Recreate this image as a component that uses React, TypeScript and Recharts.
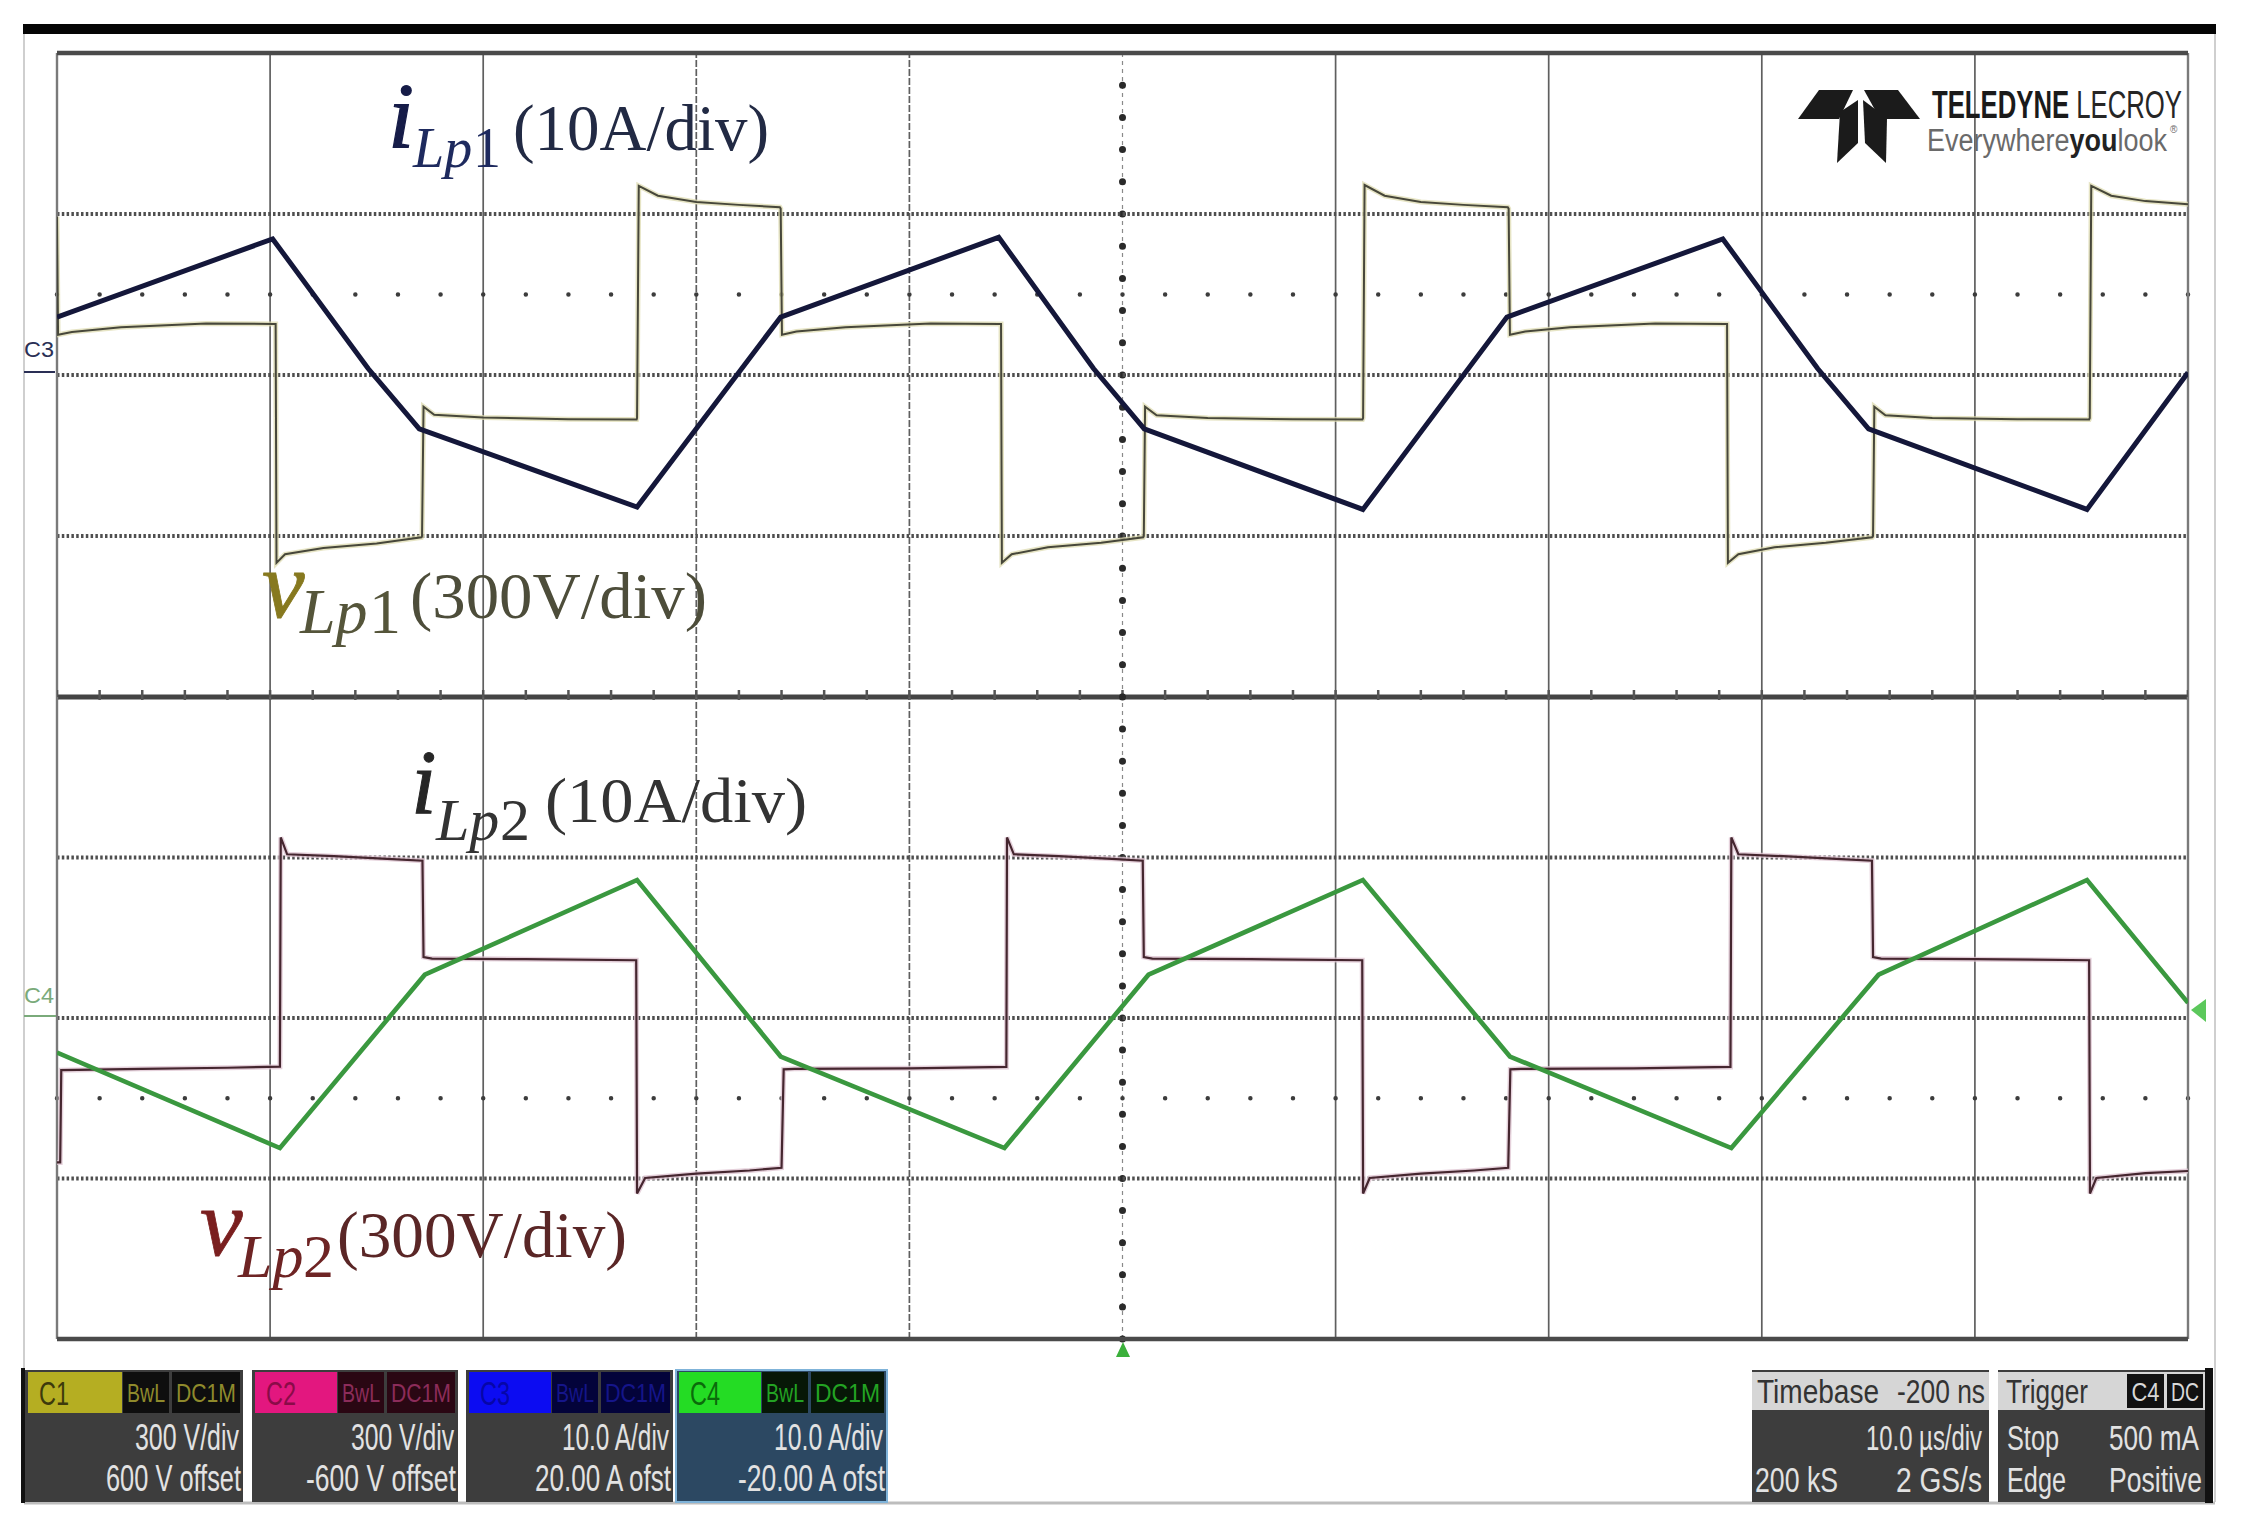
import React from 'react';
import { LineChart, Line, XAxis, YAxis, ReferenceLine } from 'recharts';

// Teledyne LeCroy capture, 10 us/div, trigger at screen centre (t = 0)
const majorT = [-40, -30, -20, -10, 10, 20, 30, 40];
const brokenT = [-20, -10];

// upper grid: vLp1 [V], 300 V/div
const vLp1: [number, number][] = [
  [-50, 590], [-49.95, 150], [-49.3, 160], [-47, 178], [-43, 192], [-39.8, 190],
  [-39.74, 190], [-39.7, -700], [-39.3, -668], [-37.5, -645], [-35, -628], [-32.9, -605],
  [-32.87, -600], [-32.8, -118], [-32.3, -148], [-30, -158], [-26, -165], [-22.8, -166],
  [-22.78, -160], [-22.7, 705], [-21.8, 668], [-20, 645], [-18, 634], [-16.08, 625],
  [-16.04, 620], [-15.98, 150], [-15.3, 162], [-13, 178], [-9, 192], [-5.74, 190],
  [-5.7, 190], [-5.66, -700], [-5.2, -668], [-3.5, -642], [-1, -625], [0.97, -605],
  [1.0, -600], [1.06, -118], [1.6, -150], [4, -160], [8, -165], [11.26, -166],
  [11.29, -160], [11.36, 708], [12.3, 668], [14, 645], [16, 634], [18.08, 625],
  [18.12, 620], [18.18, 150], [18.9, 162], [21, 178], [25, 192], [28.33, 190],
  [28.37, 190], [28.41, -700], [28.9, -668], [30.6, -642], [33, -625], [35.18, -605],
  [35.22, -600], [35.28, -118], [35.8, -150], [38, -160], [42, -165], [45.36, -166],
  [45.39, -160], [45.46, 705], [46.4, 668], [48, 648], [50, 636],
];

// upper grid: iLp1 [A], 10 A/div
const iLp1: [number, number][] = [
  [-50, 7.2], [-39.88, 16.9], [-35.4, 0.8], [-33.0, -6.7], [-22.78, -16.4], [-16.04, 7.2],
  [-5.81, 17.1], [-1.36, 0.8], [1.02, -6.7], [11.28, -16.7], [18.04, 7.2], [28.17, 16.9],
  [32.62, 0.8], [35.01, -6.7], [45.26, -16.7], [50, 0.3],
];

// lower grid: vLp2 [V], 300 V/div
const vLp2: [number, number][] = [
  [-50, -540], [-49.85, -540], [-49.8, -195], [-46, -190], [-42, -186], [-39.54, -182],
  [-39.5, 675], [-39.2, 612], [-37, 605], [-34.5, 595], [-32.85, 588],
  [-32.8, 228], [-32.4, 222], [-28, 220], [-22.82, 216],
  [-22.78, -656], [-22.4, -598], [-20, -582], [-17.5, -570], [-16.0, -560],
  [-15.9, -192], [-15.4, -190], [-10, -188], [-5.45, -183],
  [-5.42, 675], [-5.1, 612], [-3, 605], [-0.5, 595], [0.95, 588],
  [1.0, 228], [1.4, 222], [6, 220], [11.25, 216],
  [11.29, -656], [11.6, -598], [14, -582], [16.5, -570], [18.1, -560],
  [18.2, -192], [18.7, -190], [24, -188], [28.53, -183],
  [28.57, 675], [28.9, 612], [31, 605], [33.5, 595], [35.17, 588],
  [35.22, 228], [35.6, 222], [40, 220], [45.36, 216],
  [45.4, -656], [45.7, -598], [48, -580], [50, -572],
];

// lower grid: iLp2 [A], 10 A/div
const iLp2: [number, number][] = [
  [-50, -4.3], [-39.54, -16.2], [-32.74, 5.4], [-22.78, 17.2], [-16.04, -4.8],
  [-5.54, -16.2], [1.22, 5.4], [11.28, 17.2], [18.18, -4.8],
  [28.57, -16.2], [35.48, 5.4], [45.26, 17.2], [50, 1.9],
];

const channels = [
  { name: 'C1', scale: '300 V/div', offset: '600 V offset' },
  { name: 'C2', scale: '300 V/div', offset: '-600 V offset' },
  { name: 'C3', scale: '10.0 A/div', offset: '20.00 A ofst' },
  { name: 'C4', scale: '10.0 A/div', offset: '-20.00 A ofst' },
];

const boxLook = [
  { x: 25, w: 218, tagW: 94, tag: '#b5ae22', tagInk: '#3d3a0c', box: '#0e0e0e', boxInk: '#8f8a2c', body: '#3d3d3d', lens: [104, 135] },
  { x: 252, w: 206, tagW: 82, tag: '#e3177f', tagInk: '#8a0b48', box: '#2a0713', boxInk: '#8c2c5a', body: '#3d3d3d', lens: [103, 150] },
  { x: 466, w: 207, tagW: 82, tag: '#0c0cf2', tagInk: '#0606a8', box: '#03033a', boxInk: '#15158a', body: '#3d3d3d', lens: [107, 136] },
  { x: 676, w: 211, tagW: 82, tag: '#24dc24', tagInk: '#0b6b0b', box: '#071707', boxInk: '#23a323', body: '#2c4862', lens: [109, 147] },
];

const pts = (pairs: [number, number][], key: string) =>
  pairs.map(([t, y]) => ({ t, [key]: y }));

const SANS = '"Liberation Sans Narrow", "Liberation Sans", Arial, sans-serif';
const SERIF = '"Liberation Serif", "Times New Roman", serif';

function scopeGrid(axis: string, span: number, part: 'upper' | 'lower', minorY: number) {
  const div = span / 4;
  const out: React.ReactNode[] = [];
  majorT.forEach((t) =>
    out.push(
      <ReferenceLine key={'m' + t} x={t} yAxisId={axis} stroke="#5f5f5f" strokeWidth={1.7}
        strokeDasharray={brokenT.includes(t) ? '7 2' : undefined} />
    )
  );
  out.push(<ReferenceLine key="c0" x={0} yAxisId={axis} stroke="#8a8a8a" strokeWidth={1.2} strokeDasharray="4 4" />);
  out.push(
    <ReferenceLine key="c1" x={0} yAxisId={axis} stroke="#2a2a2a" strokeWidth={7}
      strokeLinecap="round" strokeDasharray={`0 ${minorY}`} />
  );
  [2 * div, 0, -2 * div].forEach((y) =>
    out.push(
      <ReferenceLine key={'h' + y} y={y} yAxisId={axis} stroke="#4f4f4f" strokeWidth={4.2} strokeDasharray="2.5 2.3" />
    )
  );
  out.push(
    <ReferenceLine key="sp" y={part === 'upper' ? div : -div} yAxisId={axis} stroke="#3c3c3c" strokeWidth={4.5}
      strokeLinecap="round" strokeDasharray="0 42.62" />
  );
  out.push(<ReferenceLine key="bl" x={-50} yAxisId={axis} stroke="#7a7a7a" strokeWidth={2.4} />);
  out.push(<ReferenceLine key="br" x={50} yAxisId={axis} stroke="#7a7a7a" strokeWidth={2.4} />);
  if (part === 'upper') {
    out.push(<ReferenceLine key="top" y={span} yAxisId={axis} stroke="#4a4a4a" strokeWidth={4.5} />);
    out.push(<ReferenceLine key="mid" y={-span} yAxisId={axis} stroke="#444" strokeWidth={5} />);
    out.push(
      <ReferenceLine key="tk" y={-span} yAxisId={axis} stroke="#555" strokeWidth={14}
        strokeDasharray="2.5 40.12" strokeDashoffset={1.25} />
    );
  } else {
    out.push(<ReferenceLine key="bot" y={-span} yAxisId={axis} stroke="#4a4a4a" strokeWidth={4.5} />);
  }
  return out;
}

function UpperGrid() {
  return (
    <LineChart width={2244} height={700} margin={{ top: 53, right: 56, bottom: 3, left: 57 }}>
      <XAxis dataKey="t" type="number" domain={[-50, 50]} allowDataOverflow hide />
      <YAxis yAxisId="v" type="number" domain={[-1200, 1200]} allowDataOverflow hide />
      <YAxis yAxisId="i" type="number" domain={[-40, 40]} allowDataOverflow hide />
      {scopeGrid('v', 1200, 'upper', 32.2)}
      <Line yAxisId="v" data={pts(vLp1, 'v')} dataKey="v" type="linear" stroke="#dedbb0" strokeOpacity={0.75}
        strokeWidth={5} dot={false} isAnimationActive={false} />
      <Line yAxisId="v" data={pts(vLp1, 'v')} dataKey="v" type="linear" stroke="#47473a" strokeWidth={2}
        dot={false} isAnimationActive={false} />
      <Line yAxisId="i" data={pts(iLp1, 'i')} dataKey="i" type="linear" stroke="#14173a" strokeWidth={5}
        dot={false} isAnimationActive={false} />
    </LineChart>
  );
}

function LowerGrid() {
  return (
    <LineChart width={2244} height={660} margin={{ top: 7, right: 56, bottom: 11, left: 57 }}>
      <XAxis dataKey="t" type="number" domain={[-50, 50]} allowDataOverflow hide />
      <YAxis yAxisId="v" type="number" domain={[-1200, 1200]} allowDataOverflow hide />
      <YAxis yAxisId="i" type="number" domain={[-40, 40]} allowDataOverflow hide />
      {scopeGrid('v', 1200, 'lower', 32.1)}
      <Line yAxisId="v" data={pts(vLp2, 'v')} dataKey="v" type="linear" stroke="#dfc6d2" strokeOpacity={0.8}
        strokeWidth={5} dot={false} isAnimationActive={false} />
      <Line yAxisId="v" data={pts(vLp2, 'v')} dataKey="v" type="linear" stroke="#45262f" strokeWidth={2.2}
        dot={false} isAnimationActive={false} />
      <Line yAxisId="i" data={pts(iLp2, 'i')} dataKey="i" type="linear" stroke="#3a983f" strokeWidth={4.6}
        dot={false} isAnimationActive={false} />
    </LineChart>
  );
}

function Overlay() {
  return (
    <svg width={2244} height={1531} style={{ position: 'absolute', left: 0, top: 0, pointerEvents: 'none' }}>
      {/* frame */}
      <rect x={23} y={24} width={2193} height={10} fill="#050505" />
      <line x1={24} y1={34} x2={24} y2={1502} stroke="#cfcfcf" strokeWidth={2} />
      <line x1={2215} y1={34} x2={2215} y2={1502} stroke="#cfcfcf" strokeWidth={2} />
      <line x1={24} y1={1503} x2={2215} y2={1503} stroke="#bdbdbd" strokeWidth={3} />

      {/* logo */}
      <polygon points="1798,119 1819,90 1853,90 1839,119" fill="#1b1b1b" />
      <polygon points="1864,90 1898,90 1920,119 1880,119" fill="#1b1b1b" />
      <polygon points="1840,112 1858,100 1858,143 1837,163" fill="#1b1b1b" />
      <polygon points="1863,100 1887,118 1886,163 1865,143" fill="#1b1b1b" />
      <text x={1932} y={118} fontFamily={SANS} fontSize={38} fill="#262626"
        textLength={250} lengthAdjust="spacingAndGlyphs">
        <tspan fontWeight="bold" fill="#1a1a1a">TELEDYNE</tspan> LECROY
      </text>
      <text x={1927} y={151} fontFamily={SANS} fontSize={31} fill="#6a6a6a"
        textLength={240} lengthAdjust="spacingAndGlyphs">
        Everywhere<tspan fontWeight="bold" fill="#222">you</tspan>look
      </text>
      <text x={2170} y={133} fontFamily={SANS} fontSize={10} fill="#6a6a6a">®</text>

      {/* trace labels */}
      <g fontFamily={SERIF}>
        <text x={388} y={147} fontStyle="italic" fontSize={94} fill="#161c48" stroke="#161c48" strokeWidth={1.2}>i</text>
        <text x={413} y={167} fontStyle="italic" fontSize={56} fill="#1e2a5e">Lp</text>
        <text x={473} y={167} fontSize={56} fill="#1e2a5e">1</text>
        <text x={513} y={150} fontSize={66} fill="#222a44" textLength={256} lengthAdjust="spacingAndGlyphs">(10A/div)</text>

        <text x={262} y={617} fontStyle="italic" fontSize={96} fill="#87791f" stroke="#87791f" strokeWidth={0.8}>v</text>
        <text x={300} y={633} fontStyle="italic" fontSize={64} fill="#55553a">Lp</text>
        <text x={369} y={633} fontSize={64} fill="#55553a">1</text>
        <text x={410} y={618} fontSize={66} fill="#4d4d3a" textLength={297} lengthAdjust="spacingAndGlyphs">(300V/div)</text>

        <text x={411} y={813} fontStyle="italic" fontSize={92} fill="#262626" stroke="#262626" strokeWidth={1}>i</text>
        <text x={436} y={840} fontStyle="italic" fontSize={60} fill="#333">Lp</text>
        <text x={500} y={840} fontSize={60} fill="#333">2</text>
        <text x={545} y={822} fontSize={64} fill="#333" textLength={262} lengthAdjust="spacingAndGlyphs">(10A/div)</text>

        <text x={200} y={1255} fontStyle="italic" fontSize={96} fill="#7a1f1f" stroke="#7a1f1f" strokeWidth={0.8}>v</text>
        <text x={238} y={1277} fontStyle="italic" fontSize={62} fill="#6e2424">Lp</text>
        <text x={303} y={1277} fontSize={62} fill="#6e2424">2</text>
        <text x={337} y={1257} fontSize={66} fill="#5a2626" textLength={290} lengthAdjust="spacingAndGlyphs">(300V/div)</text>
      </g>

      {/* channel markers */}
      <text x={24} y={357} fontFamily={SANS} fontSize={22} fill="#2a2f55" textLength={30} lengthAdjust="spacingAndGlyphs">C3</text>
      <line x1={24} y1={372} x2={55} y2={372} stroke="#2a2f55" strokeWidth={2} />
      <text x={24} y={1003} fontFamily={SANS} fontSize={22} fill="#7aaa7a" textLength={30} lengthAdjust="spacingAndGlyphs">C4</text>
      <line x1={24} y1={1016} x2={56} y2={1016} stroke="#7aaa7a" strokeWidth={2} />
      <polygon points="1123,1342 1116,1357 1130,1357" fill="#3bb03b" />
      <polygon points="2191,1010 2206,999 2206,1022" fill="#5cc85c" />

      {/* channel descriptors */}
      <rect x={21} y={1368} width={4} height={135} fill="#111" />
      {channels.map((c, k) => {
        const s = boxLook[k];
        const b1 = s.x + 4 + s.tagW;
        const b2 = b1 + 49;
        const b2w = s.x + s.w - 3 - b2;
        return (
          <g key={c.name} fontFamily={SANS}>
            <rect x={s.x} y={1370} width={s.w} height={132} fill={s.body}
              stroke={k === 3 ? '#7fb3d9' : 'none'} strokeWidth={2} />
            <rect x={s.x + 3} y={1372} width={s.tagW} height={41} fill={s.tag} />
            <text x={s.x + 14} y={1405} fontSize={34} fill={s.tagInk} textLength={30} lengthAdjust="spacingAndGlyphs">{c.name}</text>
            <rect x={b1} y={1372} width={46} height={41} fill={s.box} />
            <text x={b1 + 23} y={1402} textAnchor="middle" fontSize={26} fill={s.boxInk} textLength={38} lengthAdjust="spacingAndGlyphs">BwL</text>
            <rect x={b2} y={1372} width={b2w} height={41} fill={s.box} />
            <text x={b2 + b2w / 2} y={1402} textAnchor="middle" fontSize={26} fill={s.boxInk} textLength={b2w - 8} lengthAdjust="spacingAndGlyphs">DC1M</text>
            <text x={s.x + s.w - 4} y={1450} textAnchor="end" fontSize={36} fill="#e2e2e2" textLength={s.lens[0]} lengthAdjust="spacingAndGlyphs">{c.scale}</text>
            <text x={s.x + s.w - 2} y={1491} textAnchor="end" fontSize={36} fill="#e2e2e2" textLength={s.lens[1]} lengthAdjust="spacingAndGlyphs">{c.offset}</text>
          </g>
        );
      })}

      {/* timebase / trigger */}
      <g fontFamily={SANS} fontSize={35}>
        <rect x={1752} y={1370} width={237} height={132} fill="#3d3d3d" />
        <rect x={1752} y={1372} width={237} height={38} fill="#d6d6d6" />
        <text x={1757} y={1403} fontSize={33} fill="#333" textLength={122} lengthAdjust="spacingAndGlyphs">Timebase</text>
        <text x={1985} y={1403} textAnchor="end" fontSize={33} fill="#333" textLength={88} lengthAdjust="spacingAndGlyphs">-200 ns</text>
        <text x={1982} y={1450} textAnchor="end" fill="#e2e2e2" textLength={116} lengthAdjust="spacingAndGlyphs">10.0 µs/div</text>
        <text x={1755} y={1492} fill="#e2e2e2" textLength={83} lengthAdjust="spacingAndGlyphs">200 kS</text>
        <text x={1982} y={1492} textAnchor="end" fill="#e2e2e2" textLength={86} lengthAdjust="spacingAndGlyphs">2 GS/s</text>

        <rect x={1998} y={1370} width={207} height={132} fill="#3d3d3d" />
        <rect x={1998} y={1372} width={207} height={38} fill="#d6d6d6" />
        <text x={2006} y={1403} fontSize={33} fill="#333" textLength={82} lengthAdjust="spacingAndGlyphs">Trigger</text>
        <rect x={2127} y={1374} width={37} height={34} fill="#111" />
        <rect x={2167} y={1374} width={36} height={34} fill="#111" />
        <text x={2145.5} y={1401} textAnchor="middle" fontSize={26} fill="#d8d8d8" textLength={28} lengthAdjust="spacingAndGlyphs">C4</text>
        <text x={2185} y={1401} textAnchor="middle" fontSize={26} fill="#d8d8d8" textLength={28} lengthAdjust="spacingAndGlyphs">DC</text>
        <text x={2007} y={1450} fill="#e2e2e2" textLength={52} lengthAdjust="spacingAndGlyphs">Stop</text>
        <text x={2199} y={1450} textAnchor="end" fill="#e2e2e2" textLength={90} lengthAdjust="spacingAndGlyphs">500 mA</text>
        <text x={2007} y={1492} fill="#e2e2e2" textLength={59} lengthAdjust="spacingAndGlyphs">Edge</text>
        <text x={2202} y={1492} textAnchor="end" fill="#e2e2e2" textLength={93} lengthAdjust="spacingAndGlyphs">Positive</text>
        <rect x={2205} y={1368} width={8} height={135} fill="#111" />
      </g>
    </svg>
  );
}

export default function App() {
  return (
    <div style={{ position: 'absolute', left: 0, top: 0, width: 2244, height: 1531, background: '#fff', overflow: 'hidden' }}>
      <div style={{ position: 'absolute', left: 0, top: 0 }}>
        <UpperGrid />
      </div>
      <div style={{ position: 'absolute', left: 0, top: 690 }}>
        <LowerGrid />
      </div>
      <Overlay />
    </div>
  );
}
